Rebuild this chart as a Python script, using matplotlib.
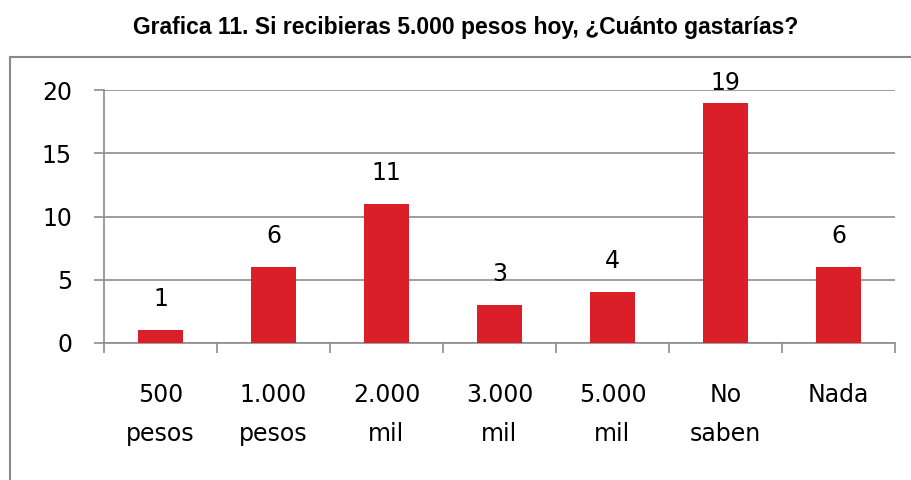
import matplotlib
matplotlib.use("Agg")
import matplotlib.pyplot as plt
from matplotlib.patches import Rectangle
import numpy as np

categories = ["500\npesos", "1.000\npesos", "2.000\nmil", "3.000\nmil", "5.000\nmil", "No\nsaben", "Nada"]
values = [1, 6, 11, 3, 4, 19, 6]
yticks = [0, 5, 10, 15, 20]
title = "Grafica 11. Si recibieras 5.000 pesos hoy, ¿Cuánto gastarías?"

bar_color = "#DA1F28"
grid_color = "#8C8C8C"

plt.rcParams["font.family"] = ["DejaVu Sans"]

fig = plt.figure(figsize=(9.12, 4.8), dpi=100)
ax = fig.add_axes([104/912, 1-343/480, (895-104)/912, (343-90)/480])

x = np.arange(len(categories))
ax.bar(x, values, width=0.4, color=bar_color, zorder=3)
ymax = max(yticks)
for xi, v in zip(x, values):
    ax.text(xi, min(v + 1.9, ymax), str(v), ha="center", va="baseline",
            fontsize=17, color="black", clip_on=False, zorder=4)

ax.set_xlim(-0.5, len(categories)-0.5)
ax.set_ylim(0, ymax)
ax.set_yticks(yticks)
ax.set_yticklabels([str(t) for t in yticks], fontsize=17)
ax.yaxis.grid(True, color=grid_color, linewidth=1.2, zorder=0)
ax.tick_params(axis="y", length=7, width=1.2, color=grid_color, pad=16)

ax.set_xticks(x)
ax.set_xticklabels(categories, fontsize=17, linespacing=1.75)
ax.set_xticks(np.arange(len(categories)+1)-0.5, minor=True)
ax.tick_params(axis="x", which="major", length=0, pad=29)
ax.tick_params(axis="x", which="minor", length=7, width=1.2, color=grid_color)

for s in ["top", "right"]:
    ax.spines[s].set_visible(False)
ax.spines["left"].set_color(grid_color)
ax.spines["left"].set_linewidth(1.2)
ax.spines["bottom"].set_color(grid_color)
ax.spines["bottom"].set_linewidth(1.2)

fig.text(466/912, 1-34/480, title, ha="center", va="baseline", fontsize=16.5,
         fontweight="bold", family=["Liberation Sans", "DejaVu Sans"])

fig.patches.append(Rectangle((10/912, -0.1), 1.2, 1-57/480+0.1, transform=fig.transFigure,
                             fill=False, edgecolor="#8A8A8A", linewidth=1.5))

fig.savefig("out.png", dpi=100)
